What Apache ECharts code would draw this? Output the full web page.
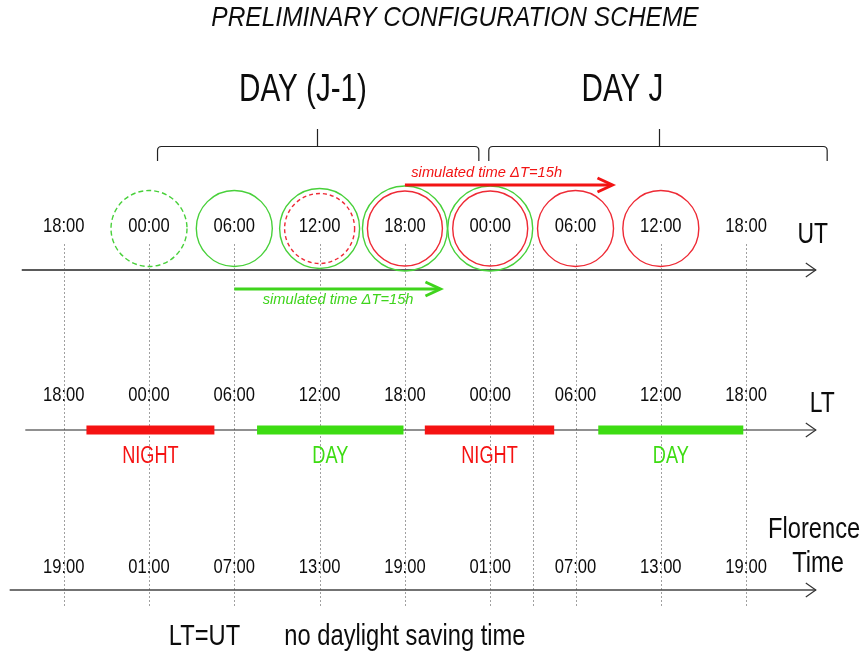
<!DOCTYPE html>
<html>
<head>
<meta charset="utf-8">
<script src="https://cdn.jsdelivr.net/npm/echarts@6/dist/echarts.min.js"></script>
<style>
  html, body { margin: 0; padding: 0; background: #fff; }
  #chart { width: 863px; height: 653px; }
</style>
</head>
<body>
<div id="chart"></div>
<script>
// hours counted from 00:00 UT of day J-1
const tickHours = [-6, 0, 6, 12, 18, 24, 30, 36, 42];
const utLabels = ["18:00", "00:00", "06:00", "12:00", "18:00", "00:00", "06:00", "12:00", "18:00"];
const ltLabels = ["18:00", "00:00", "06:00", "12:00", "18:00", "00:00", "06:00", "12:00", "18:00"];
const florenceLabels = ["19:00", "01:00", "07:00", "13:00", "19:00", "01:00", "07:00", "13:00", "19:00"];
const extraGuideHours = [27];

// model runs (start hour), dashed = 1
const greenRunHours = [0, 6, 12, 18, 24];
const greenRunDashed = [1, 0, 0, 0, 0];
const redRunHours = [12, 18, 24, 30, 36];
const redRunDashed = [1, 0, 0, 0, 0];

// simulated windows [start, end, text centre]
const greenSim = [6, 20.5, 13.3];
const redSim = [18, 32.6, 23.75];
const simText = "simulated time \u0394T=15h";

// local time night / day spans
const nightSpans = [[-4.4, 4.6], [19.4, 28.5]];
const daySpans = [[7.6, 17.9], [31.6, 41.8]];

// day brackets [start, end, tip]
const dayBrackets = [[0.6, 23.2, 11.8], [23.9, 47.7, 35.9]];
const dayNames = ["DAY (J-1)", "DAY J"];
const dayNameHours = [10.83, 33.3];

// free texts: axis names and notes
const noteTexts = ["UT", "LT", "Florence", "Time", "LT=UT", "no daylight saving time"];
const noteHours = [46.68, 47.35, 46.78, 47.06, 3.9, 18.0];

// layout (y in pixels from top, x in hours)
const ROW = {
  dayName: 91, bracket: 146, bracketTip: 129, bracketFoot: 161,
  redSim: 185, redSimText: 172.5, circle: 228.5, utText: 226, utAxis: 270,
  greenSim: 289, greenSimText: 300, guideTop: 244, guideBottom: 606,
  ltText: 395, ltAxis: 430, spanText: 457, flText: 567, flAxis: 590
};
const noteRows = [235, 404, 530, 564, 637, 637];
const noteSizes = [29, 29, 30, 30, 30, 30];
const axisSpans = { ut: [-8.95, 46.9], lt: [-8.7, 46.9], fl: [-9.8, 46.9] };

const GREEN = "#48d03a", RED = "#ee2a35";
const BAR_GREEN = "#3ddc12", BAR_RED = "#f51212";
const SANS = '"Liberation Sans", Arial, sans-serif';
const NARROW = 0.79;

function txt(x, y, text, size, color, extra, scale) {
  return {
    type: "text",
    x: x, y: y,
    scaleX: scale === undefined ? NARROW : scale,
    style: {
      text: text, x: 0, y: 0, fill: color || "#0c0c0c",
      font: (extra || "") + " " + size + "px " + SANS,
      align: "center", verticalAlign: "middle"
    }
  };
}

function chevron(x, y, len, half, color, width) {
  return {
    type: "polyline",
    shape: { points: [[x - len, y - half], [x, y], [x - len, y + half]] },
    style: { stroke: color, lineWidth: width, fill: "none" }
  };
}

function customSeries(name, data, renderItem, z) {
  return { type: "custom", name: name, data: data, renderItem: renderItem, z: z || 2, silent: true, clip: false };
}

const chart = echarts.init(document.getElementById("chart"));

chart.setOption({
  animation: false,
  graphic: [{
    type: "text", x: 455, y: 18, scaleX: 0.875,
    style: {
      text: "PRELIMINARY CONFIGURATION SCHEME", x: 0, y: 0, fill: "#0c0c0c",
      font: "italic 28px " + SANS, align: "center", verticalAlign: "middle"
    }
  }],
  grid: { left: 0, right: 0, top: 0, bottom: 0 },
  xAxis: { type: "value", min: -10.48, max: 50.22, show: false },
  yAxis: { type: "value", min: 0, max: 653, inverse: true, show: false },
  series: [
    // dotted guides
    customSeries("guides", tickHours.concat(extraGuideHours).map(h => [h]), function (params, api) {
      const a = api.coord([api.value(0), ROW.guideTop]);
      const b = api.coord([api.value(0), ROW.guideBottom]);
      const x = Math.round(a[0]) + 0.5;
      return { type: "line", shape: { x1: x, y1: a[1], x2: x, y2: b[1] },
        style: { stroke: "#a0a0a0", lineWidth: 1, lineDash: [2, 2] } };
    }, 1),
    // time axes with open arrowheads
    customSeries("axes", [axisSpans.ut.concat(ROW.utAxis), axisSpans.lt.concat(ROW.ltAxis), axisSpans.fl.concat(ROW.flAxis)], function (params, api) {
      const a = api.coord([api.value(0), api.value(2)]);
      const b = api.coord([api.value(1), api.value(2)]);
      const color = ["#5a5a5a", "#222", "#444"][params.dataIndex];
      const w = [2, 1.2, 1.6][params.dataIndex];
      return { type: "group", children: [
        { type: "line", shape: { x1: a[0], y1: a[1], x2: b[0], y2: b[1] }, style: { stroke: color, lineWidth: w } },
        chevron(b[0], b[1], 10, 7, "#333", 1.2)
      ] };
    }, 3),
    // LT night / day bars
    customSeries("spans", nightSpans.map(s => s.concat(0)).concat(daySpans.map(s => s.concat(1))), function (params, api) {
      const a = api.coord([api.value(0), ROW.ltAxis]);
      const b = api.coord([api.value(1), ROW.ltAxis]);
      const isDay = api.value(2) === 1;
      return { type: "group", children: [
        { type: "rect", shape: { x: a[0], y: a[1] - 4.5, width: b[0] - a[0], height: 9 },
          style: { fill: isDay ? BAR_GREEN : BAR_RED } },
        txt((a[0] + b[0]) / 2, api.coord([0, ROW.spanText])[1], isDay ? "DAY" : "NIGHT", 23, isDay ? BAR_GREEN : BAR_RED)
      ] };
    }, 4),
    // green runs
    customSeries("greenRuns", greenRunHours.map(h => [h]), function (params, api) {
      const c = api.coord([api.value(0), ROW.circle]);
      const j = redRunHours.indexOf(api.value(0));
      const r = j >= 0 ? (redRunDashed[j] ? 40 : 42.5) : 38;
      return { type: "circle", shape: { cx: c[0], cy: c[1], r: r },
        style: { fill: "none", stroke: GREEN, lineWidth: 1.4, lineDash: greenRunDashed[params.dataIndex] ? [5, 3] : null } };
    }, 5),
    // red runs
    customSeries("redRuns", redRunHours.map(h => [h]), function (params, api) {
      const c = api.coord([api.value(0), ROW.circle]);
      const paired = greenRunHours.indexOf(api.value(0)) >= 0;
      const r = paired ? (redRunDashed[params.dataIndex] ? 35 : 37.5) : 38;
      return { type: "circle", shape: { cx: c[0], cy: c[1], r: r },
        style: { fill: "none", stroke: RED, lineWidth: 1.4, lineDash: redRunDashed[params.dataIndex] ? [4, 3] : null } };
    }, 5),
    // simulated time arrows
    customSeries("sim", [greenSim.concat(ROW.greenSim, ROW.greenSimText, 0), redSim.concat(ROW.redSim, ROW.redSimText, 1)], function (params, api) {
      const a = api.coord([api.value(0), api.value(3)]);
      const b = api.coord([api.value(1), api.value(3)]);
      const t = api.coord([api.value(2), api.value(4)]);
      const color = api.value(5) === 1 ? "#f21414" : "#3fd41c";
      return { type: "group", children: [
        { type: "line", shape: { x1: a[0], y1: a[1], x2: b[0] - 1, y2: b[1] }, style: { stroke: color, lineWidth: 3 } },
        chevron(b[0], b[1], 15, 7, color, 3),
        txt(t[0], t[1], simText, 15, color, "italic", 0.98)
      ] };
    }, 6),
    // tick labels on the three time lines
    customSeries("ticks", tickHours.map(h => [h]), function (params, api) {
      const i = params.dataIndex, h = api.value(0);
      const u = api.coord([h, ROW.utText]);
      const l = api.coord([h, ROW.ltText]);
      const f = api.coord([h, ROW.flText]);
      return { type: "group", children: [
        txt(u[0], u[1], utLabels[i], 21),
        txt(l[0], l[1], ltLabels[i], 21),
        txt(f[0], f[1], florenceLabels[i], 21)
      ] };
    }, 7),
    // day brackets and names
    customSeries("days", dayBrackets, function (params, api) {
      const x0 = api.coord([api.value(0), 0])[0];
      const x1 = api.coord([api.value(1), 0])[0];
      const xm = Math.round(api.coord([api.value(2), 0])[0]) + 0.5;
      const y = Math.round(api.coord([0, ROW.bracket])[1]) + 0.5;
      const yf = api.coord([0, ROW.bracketFoot])[1];
      const yt = api.coord([0, ROW.bracketTip])[1];
      const n = api.coord([dayNameHours[params.dataIndex], ROW.dayName]);
      const r = 4;
      const path = "M" + x0 + " " + yf + " L" + x0 + " " + (y + r) + " Q" + x0 + " " + y + " " + (x0 + r) + " " + y +
        " L" + (x1 - r) + " " + y + " Q" + x1 + " " + y + " " + x1 + " " + (y + r) + " L" + x1 + " " + yf +
        " M" + xm + " " + y + " L" + xm + " " + yt;
      return { type: "group", children: [
        { type: "path", shape: { pathData: path }, style: { fill: "none", stroke: "#222", lineWidth: 1.2 } },
        txt(n[0], n[1], dayNames[params.dataIndex], 38, "#0c0c0c", "", 0.78)
      ] };
    }, 7),
    // axis names and notes
    customSeries("names", noteHours.map(h => [h]), function (params, api) {
      const i = params.dataIndex;
      const p = api.coord([api.value(0), noteRows[i]]);
      return txt(p[0], p[1], noteTexts[i], noteSizes[i]);
    }, 7)
  ]
});
</script>
</body>
</html>
